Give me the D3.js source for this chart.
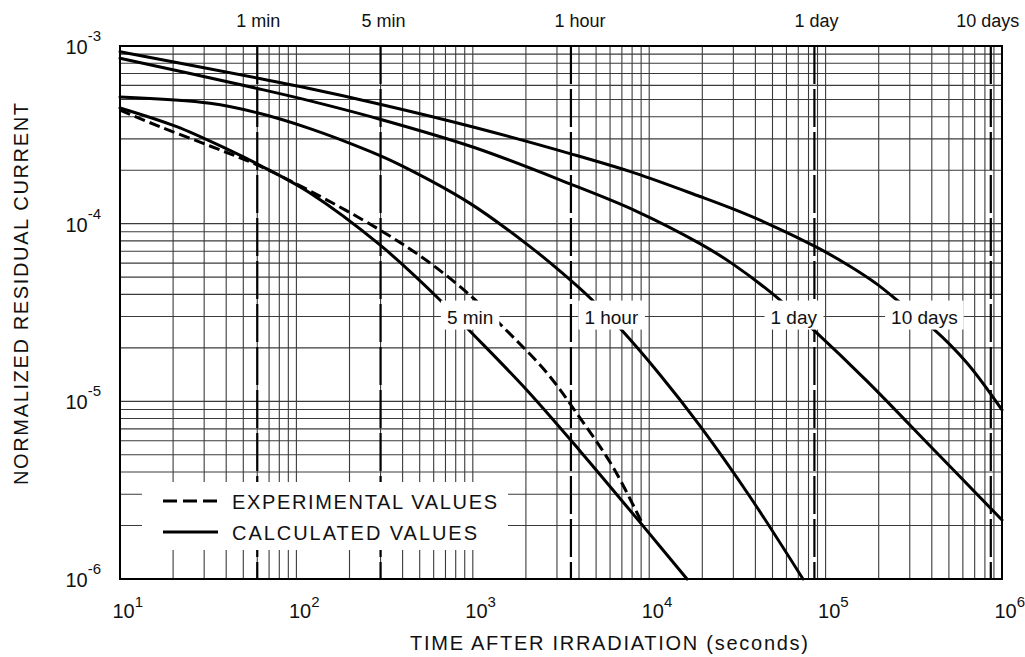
<!DOCTYPE html>
<html><head><meta charset="utf-8">
<script src="https://cdn.jsdelivr.net/npm/d3@7"></script>
<style>body{margin:0;background:#fff}svg{display:block}text{font-family:"Liberation Sans",Arial,sans-serif;fill:#111}</style>
</head><body>
<svg id="chart" width="1025" height="657"></svg>
<script>
// ---------- data ----------
const xTickExps = [1, 2, 3, 4, 5, 6];
const yTickExps = [-3, -4, -5, -6];
const markerTimes = [60, 300, 3600, 86400, 864000];
const markerLabels = ["1 min", "5 min", "1 hour", "1 day", "10 days"];
const curveLabels = ["5 min", "1 hour", "1 day", "10 days"];
const curveLabelTimes = [966, 6100, 66000, 363000];
const curveLabelLevel = 3e-5;
const legendLabels = ["EXPERIMENTAL  VALUES", "CALCULATED  VALUES"];
const xTitle = "TIME  AFTER  IRRADIATION  (seconds)";
const yTitle = "NORMALIZED  RESIDUAL  CURRENT";

// calculated curves: [time (s), normalized residual current]
const calc5min = [[10,4.48e-4],[20.96,3.515e-4],[40.27,2.633e-4],[60,2.168e-4],[119.4,1.489e-4],[297.8,7.59e-5],[651.6,3.72e-5],[939,2.555e-5],[2021,1.159e-5],[4052,5.26e-6],[9224,1.99e-6],[16380,1.0e-6]];
const calc1hour = [[10,5.16e-4],[32.37,4.76e-4],[60,4.21e-4],[119.4,3.43e-4],[261.3,2.552e-4],[386.6,2.142e-4],[964.1,1.301e-4],[2110,7.43e-5],[3246,5.23e-5],[4740,3.73e-5],[6831,2.575e-5],[11510,1.411e-5],[19410,7.27e-6],[37270,2.904e-6],[74460,1.0e-6]];
const calc1day = [[10,8.53e-4],[60,5.77e-4],[104.8,5.07e-4],[297.8,3.87e-4],[1029,2.674e-4],[3556,1.675e-4],[8309,1.185e-4],[19410,7.72e-5],[29850,5.92e-5],[54420,3.765e-5],[84840,2.544e-5],[171700,1.30e-5],[417200,5.25e-6],[1e6,2.148e-6]];
const calc10days = [[10,9.29e-4],[60,6.60e-4],[104.8,5.91e-4],[297.8,4.70e-4],[1029,3.478e-4],[3556,2.48e-4],[8309,1.926e-4],[19410,1.422e-4],[29850,1.21e-4],[46550,1.005e-4],[89330,7.35e-5],[137400,5.76e-5],[195500,4.57e-5],[264000,3.60e-5],[401000,2.60e-5],[633300,1.645e-5],[1e6,8.95e-6]];
// experimental values (5 min irradiation)
const exp5min = [[10,4.36e-4],[16.86,3.51e-4],[32.37,2.736e-4],[60,2.14e-4],[119.4,1.528e-4],[297.8,9.21e-5],[572,6.01e-5],[1003,3.82e-5],[1483,2.622e-5],[2634,1.444e-5],[4052,8.06e-6],[6233,4.27e-6],[9224,2.015e-6]];

// ---------- drawing ----------
const svg = d3.select("#chart");
const L = 120, R = 1002, T = 46, B = 579;
const x = d3.scaleLog().domain([10, 1e6]).range([L, R]);
const y = d3.scaleLog().domain([1e-6, 1e-3]).range([B, T]);

const grid = svg.append("g").attr("stroke", "#1a1a1a").attr("stroke-width", 1.1).attr("opacity", 0.85);
const xt = x.ticks().filter(v => v > 10 && v < 1e6);
const yt = y.ticks().filter(v => v > 1e-6 * 1.0001 && v < 1e-3 * 0.9999);
grid.selectAll("line.v").data(xt).join("line").attr("class", "v")
  .attr("x1", d => x(d)).attr("x2", d => x(d)).attr("y1", T).attr("y2", B);
grid.selectAll("line.h").data(yt).join("line").attr("class", "h")
  .attr("x1", L).attr("x2", R).attr("y1", d => y(d)).attr("y2", d => y(d));

// time markers
svg.append("g").selectAll("line").data(markerTimes).join("line")
  .attr("x1", d => x(d)).attr("x2", d => x(d)).attr("y1", T).attr("y2", B)
  .attr("stroke", "#000").attr("stroke-width", 2.2).attr("stroke-dasharray", "38,5");

// curves
const line = d3.line().x(d => x(d[0])).y(d => y(d[1])).curve(d3.curveCatmullRom.alpha(0.5));
const curves = svg.append("g").attr("fill", "none").attr("stroke", "#000").attr("stroke-width", 3).attr("stroke-linecap", "round");
[calc5min, calc1hour, calc1day, calc10days].forEach(c => curves.append("path").attr("d", line(c)));
curves.append("path").attr("d", line(exp5min)).attr("stroke-dasharray", "11,5").attr("stroke-linecap", "butt");

// curve labels with white boxes
const lab = svg.append("g");
curveLabels.forEach((t, i) => {
  const cx = x(curveLabelTimes[i]), cy = y(curveLabelLevel);
  const txt = lab.append("text").attr("x", cx).attr("y", cy + 7).attr("text-anchor", "middle")
    .attr("font-size", 19).text(t);
  const bb = txt.node().getBBox();
  lab.insert("rect", "text").attr("x", bb.x - 6).attr("y", cy - 16).attr("width", bb.width + 12).attr("height", 29).attr("fill", "#fff");
});

// legend
const lg = svg.append("g");
lg.append("rect").attr("x", 142).attr("y", 482).attr("width", 366).attr("height", 68).attr("fill", "#fff");
const legY = [501, 532];
lg.append("line").attr("x1", 163).attr("x2", 217).attr("y1", legY[0]).attr("y2", legY[0]).attr("stroke", "#000").attr("stroke-width", 3).attr("stroke-dasharray", "14,6");
lg.append("line").attr("x1", 163).attr("x2", 218).attr("y1", legY[1]).attr("y2", legY[1]).attr("stroke", "#000").attr("stroke-width", 3);
lg.append("text").attr("x", 232).attr("y", legY[0] + 8).attr("font-size", 20).attr("textLength", 265).attr("lengthAdjust", "spacing").text(legendLabels[0]);
lg.append("text").attr("x", 232).attr("y", legY[1] + 8).attr("font-size", 20).attr("textLength", 245).attr("lengthAdjust", "spacing").text(legendLabels[1]);

// frame
svg.append("rect").attr("x", L).attr("y", T).attr("width", R - L).attr("height", B - T)
  .attr("fill", "none").attr("stroke", "#000").attr("stroke-width", 2);

// top marker labels
const nudge = [1, 3, 9, 2, -3];
svg.append("g").selectAll("text").data(markerLabels).join("text")
  .attr("x", (d, i) => x(markerTimes[i]) + nudge[i]).attr("y", 27).attr("text-anchor", "middle")
  .attr("font-size", 18).text(d => d);

// y tick labels
yTickExps.forEach(e => {
  const t = svg.append("text").attr("x", 101).attr("y", y(Math.pow(10, e)) + 8).attr("text-anchor", "end").attr("font-size", 20);
  t.append("tspan").text("10");
  t.append("tspan").attr("dy", -13).attr("font-size", 15).text("-" + Math.abs(e));
});
// x tick labels
xTickExps.forEach(e => {
  const t = svg.append("text").attr("x", x(Math.pow(10, e)) - 7.5).attr("y", 618).attr("font-size", 20);
  t.append("tspan").text("10");
  t.append("tspan").attr("dy", -11).attr("font-size", 15).text(e);
});

// axis titles
svg.append("text").attr("x", 410).attr("y", 650).attr("font-size", 20).attr("textLength", 398).attr("lengthAdjust", "spacing").text(xTitle);
svg.append("text").attr("transform", "translate(28,485) rotate(-90)").attr("font-size", 20).attr("textLength", 382).attr("lengthAdjust", "spacing").text(yTitle);
</script>
</body></html>
